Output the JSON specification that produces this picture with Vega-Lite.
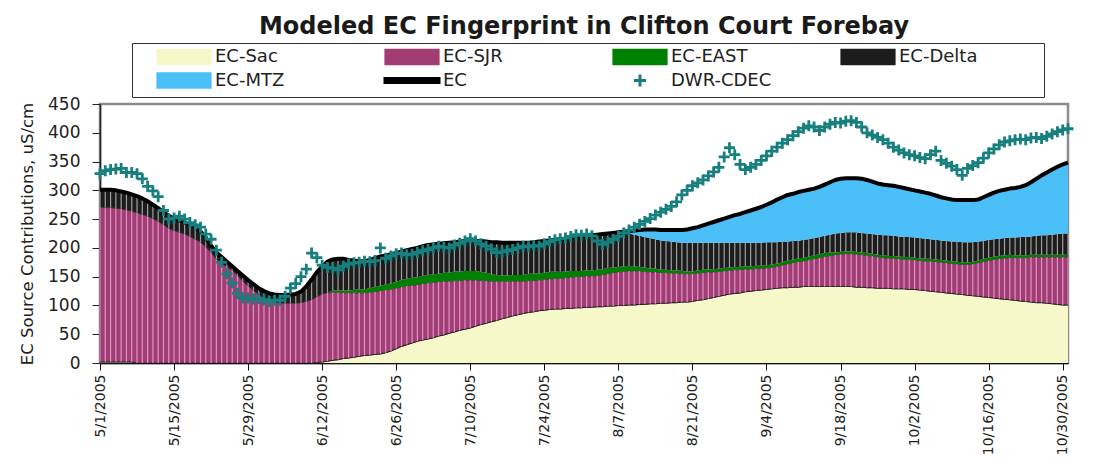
{
"$schema": "https://vega.github.io/schema/vega-lite/v6.json",
"width": 968, "height": 259,
"autosize": {"type": "none"},
"padding": {"left": 100, "top": 104, "right": 28, "bottom": 110},
"background": "white",
"config": {
  "view": {"stroke": "#8c8c8c", "strokeWidth": 2.5},
  "axis": {"labelOverlap": false},
  "axisY": {"labelOverlap": false, "labelFont": "DejaVu Sans", "labelFontSize": 17, "labelColor": "#222", "labelPadding": 12, "tickSize": 8, "tickColor": "#222", "domainColor": "#222", "domainWidth": 1.5, "grid": false, "titleFont": "DejaVu Sans", "titleFontSize": 16.5, "titleFontWeight": "normal", "titleColor": "#222", "titlePadding": 12},
  "axisX": {"labelOverlap": false, "labelFont": "DejaVu Sans", "labelFontSize": 14, "labelColor": "#222", "labelPadding": 4, "labelFlush": false, "tickSize": 7, "tickColor": "#111", "domainColor": "#111", "domainWidth": 1.5, "grid": false}
},
"title": {"text": "Modeled EC Fingerprint in Clifton Court Forebay", "font": "DejaVu Sans", "fontSize": 24, "fontWeight": "bold", "color": "#1a1a1a", "anchor": "middle", "frame": "group", "offset": 4},
"data": {"values": [
{"date":"2005/05/01","sacTop":2,"sjrTop":271,"eastTop":271,"deltaTop":301,"ec":301,"cdec":329},
{"date":"2005/05/02","sacTop":2,"sjrTop":270,"eastTop":270,"deltaTop":301,"ec":301,"cdec":334},
{"date":"2005/05/03","sacTop":2,"sjrTop":270,"eastTop":270,"deltaTop":301,"ec":301,"cdec":336},
{"date":"2005/05/04","sacTop":2,"sjrTop":269,"eastTop":269,"deltaTop":300,"ec":300,"cdec":337},
{"date":"2005/05/05","sacTop":2,"sjrTop":268,"eastTop":268,"deltaTop":298,"ec":298,"cdec":338},
{"date":"2005/05/06","sacTop":2,"sjrTop":266,"eastTop":266,"deltaTop":296,"ec":296,"cdec":331},
{"date":"2005/05/07","sacTop":2,"sjrTop":264,"eastTop":264,"deltaTop":293,"ec":293,"cdec":331},
{"date":"2005/05/08","sacTop":0,"sjrTop":261,"eastTop":261,"deltaTop":290,"ec":290,"cdec":329},
{"date":"2005/05/09","sacTop":0,"sjrTop":258,"eastTop":258,"deltaTop":286,"ec":286,"cdec":320},
{"date":"2005/05/10","sacTop":0,"sjrTop":255,"eastTop":255,"deltaTop":281,"ec":281,"cdec":307},
{"date":"2005/05/11","sacTop":0,"sjrTop":251,"eastTop":251,"deltaTop":275,"ec":275,"cdec":299},
{"date":"2005/05/12","sacTop":0,"sjrTop":246,"eastTop":246,"deltaTop":269,"ec":269,"cdec":289},
{"date":"2005/05/13","sacTop":0,"sjrTop":240,"eastTop":240,"deltaTop":262,"ec":262,"cdec":265},
{"date":"2005/05/14","sacTop":0,"sjrTop":234,"eastTop":234,"deltaTop":256,"ec":256,"cdec":250},
{"date":"2005/05/15","sacTop":0,"sjrTop":230,"eastTop":230,"deltaTop":251,"ec":251,"cdec":252},
{"date":"2005/05/16","sacTop":0,"sjrTop":227,"eastTop":227,"deltaTop":248,"ec":248,"cdec":255},
{"date":"2005/05/17","sacTop":0,"sjrTop":224,"eastTop":224,"deltaTop":244,"ec":244,"cdec":250},
{"date":"2005/05/18","sacTop":0,"sjrTop":220,"eastTop":220,"deltaTop":240,"ec":240,"cdec":244},
{"date":"2005/05/19","sacTop":0,"sjrTop":215,"eastTop":215,"deltaTop":235,"ec":235,"cdec":240},
{"date":"2005/05/20","sacTop":0,"sjrTop":210,"eastTop":210,"deltaTop":229,"ec":229,"cdec":236},
{"date":"2005/05/21","sacTop":0,"sjrTop":202,"eastTop":202,"deltaTop":218,"ec":218,"cdec":224},
{"date":"2005/05/22","sacTop":0,"sjrTop":192,"eastTop":192,"deltaTop":204,"ec":204,"cdec":215},
{"date":"2005/05/23","sacTop":0,"sjrTop":180,"eastTop":180,"deltaTop":192,"ec":192,"cdec":196},
{"date":"2005/05/24","sacTop":0,"sjrTop":173,"eastTop":173,"deltaTop":184,"ec":184,"cdec":175},
{"date":"2005/05/25","sacTop":0,"sjrTop":167,"eastTop":167,"deltaTop":176,"ec":176,"cdec":155},
{"date":"2005/05/26","sacTop":0,"sjrTop":161,"eastTop":161,"deltaTop":168,"ec":168,"cdec":139},
{"date":"2005/05/27","sacTop":0,"sjrTop":152,"eastTop":152,"deltaTop":160,"ec":160,"cdec":121},
{"date":"2005/05/28","sacTop":0,"sjrTop":142,"eastTop":142,"deltaTop":152,"ec":152,"cdec":113},
{"date":"2005/05/29","sacTop":0,"sjrTop":134,"eastTop":134,"deltaTop":144,"ec":144,"cdec":113},
{"date":"2005/05/30","sacTop":0,"sjrTop":126,"eastTop":126,"deltaTop":137,"ec":137,"cdec":111},
{"date":"2005/05/31","sacTop":0,"sjrTop":119,"eastTop":119,"deltaTop":130,"ec":130,"cdec":112},
{"date":"2005/06/01","sacTop":0,"sjrTop":113,"eastTop":113,"deltaTop":125,"ec":125,"cdec":110},
{"date":"2005/06/02","sacTop":0,"sjrTop":108,"eastTop":108,"deltaTop":121,"ec":121,"cdec":107},
{"date":"2005/06/03","sacTop":0,"sjrTop":106,"eastTop":106,"deltaTop":119,"ec":119,"cdec":109},
{"date":"2005/06/04","sacTop":0,"sjrTop":104,"eastTop":104,"deltaTop":118,"ec":118,"cdec":109},
{"date":"2005/06/05","sacTop":0,"sjrTop":104,"eastTop":104,"deltaTop":118,"ec":118,"cdec":116},
{"date":"2005/06/06","sacTop":0,"sjrTop":104,"eastTop":104,"deltaTop":119,"ec":119,"cdec":130},
{"date":"2005/06/07","sacTop":0,"sjrTop":104,"eastTop":104,"deltaTop":120,"ec":120,"cdec":138},
{"date":"2005/06/08","sacTop":0,"sjrTop":105,"eastTop":105,"deltaTop":124,"ec":124,"cdec":150},
{"date":"2005/06/09","sacTop":0,"sjrTop":107,"eastTop":107,"deltaTop":133,"ec":133,"cdec":163},
{"date":"2005/06/10","sacTop":0,"sjrTop":110,"eastTop":110,"deltaTop":145,"ec":145,"cdec":191},
{"date":"2005/06/11","sacTop":1,"sjrTop":115,"eastTop":115,"deltaTop":158,"ec":158,"cdec":183},
{"date":"2005/06/12","sacTop":2,"sjrTop":120,"eastTop":120,"deltaTop":168,"ec":168,"cdec":170},
{"date":"2005/06/13","sacTop":3,"sjrTop":122,"eastTop":122,"deltaTop":176,"ec":176,"cdec":166},
{"date":"2005/06/14","sacTop":5,"sjrTop":123,"eastTop":126,"deltaTop":180,"ec":180,"cdec":165},
{"date":"2005/06/15","sacTop":6,"sjrTop":123,"eastTop":126,"deltaTop":181,"ec":181,"cdec":162},
{"date":"2005/06/16","sacTop":8,"sjrTop":122,"eastTop":126,"deltaTop":181,"ec":181,"cdec":168},
{"date":"2005/06/17","sacTop":9,"sjrTop":122,"eastTop":126,"deltaTop":179,"ec":179,"cdec":172},
{"date":"2005/06/18","sacTop":10,"sjrTop":122,"eastTop":127,"deltaTop":178,"ec":178,"cdec":174},
{"date":"2005/06/19","sacTop":12,"sjrTop":122,"eastTop":128,"deltaTop":177,"ec":177,"cdec":175},
{"date":"2005/06/20","sacTop":13,"sjrTop":122,"eastTop":128,"deltaTop":177,"ec":177,"cdec":177},
{"date":"2005/06/21","sacTop":14,"sjrTop":123,"eastTop":130,"deltaTop":179,"ec":179,"cdec":176},
{"date":"2005/06/22","sacTop":15,"sjrTop":124,"eastTop":132,"deltaTop":182,"ec":182,"cdec":178},
{"date":"2005/06/23","sacTop":16,"sjrTop":125,"eastTop":134,"deltaTop":185,"ec":185,"cdec":200},
{"date":"2005/06/24","sacTop":18,"sjrTop":127,"eastTop":137,"deltaTop":187,"ec":187,"cdec":182},
{"date":"2005/06/25","sacTop":21,"sjrTop":128,"eastTop":138,"deltaTop":189,"ec":189,"cdec":186},
{"date":"2005/06/26","sacTop":25,"sjrTop":130,"eastTop":141,"deltaTop":191,"ec":191,"cdec":190},
{"date":"2005/06/27","sacTop":29,"sjrTop":132,"eastTop":144,"deltaTop":194,"ec":194,"cdec":191},
{"date":"2005/06/28","sacTop":32,"sjrTop":134,"eastTop":146,"deltaTop":196,"ec":196,"cdec":188},
{"date":"2005/06/29","sacTop":35,"sjrTop":135,"eastTop":148,"deltaTop":198,"ec":198,"cdec":189},
{"date":"2005/06/30","sacTop":38,"sjrTop":136,"eastTop":149,"deltaTop":200,"ec":200,"cdec":192},
{"date":"2005/07/01","sacTop":40,"sjrTop":138,"eastTop":151,"deltaTop":203,"ec":203,"cdec":195},
{"date":"2005/07/02","sacTop":42,"sjrTop":139,"eastTop":153,"deltaTop":205,"ec":205,"cdec":197},
{"date":"2005/07/03","sacTop":44,"sjrTop":140,"eastTop":154,"deltaTop":206,"ec":206,"cdec":200},
{"date":"2005/07/04","sacTop":47,"sjrTop":141,"eastTop":155,"deltaTop":207,"ec":207,"cdec":203},
{"date":"2005/07/05","sacTop":49,"sjrTop":142,"eastTop":157,"deltaTop":208,"ec":208,"cdec":201},
{"date":"2005/07/06","sacTop":52,"sjrTop":142,"eastTop":157,"deltaTop":209,"ec":209,"cdec":200},
{"date":"2005/07/07","sacTop":54,"sjrTop":143,"eastTop":159,"deltaTop":210,"ec":210,"cdec":205},
{"date":"2005/07/08","sacTop":57,"sjrTop":143,"eastTop":159,"deltaTop":211,"ec":211,"cdec":208},
{"date":"2005/07/09","sacTop":59,"sjrTop":144,"eastTop":160,"deltaTop":212,"ec":212,"cdec":212},
{"date":"2005/07/10","sacTop":61,"sjrTop":144,"eastTop":160,"deltaTop":212,"ec":212,"cdec":216},
{"date":"2005/07/11","sacTop":64,"sjrTop":144,"eastTop":160,"deltaTop":212,"ec":212,"cdec":212},
{"date":"2005/07/12","sacTop":67,"sjrTop":143,"eastTop":158,"deltaTop":212,"ec":212,"cdec":207},
{"date":"2005/07/13","sacTop":69,"sjrTop":143,"eastTop":157,"deltaTop":211,"ec":211,"cdec":203},
{"date":"2005/07/14","sacTop":72,"sjrTop":142,"eastTop":154,"deltaTop":210,"ec":210,"cdec":198},
{"date":"2005/07/15","sacTop":74,"sjrTop":142,"eastTop":153,"deltaTop":210,"ec":210,"cdec":192},
{"date":"2005/07/16","sacTop":77,"sjrTop":142,"eastTop":152,"deltaTop":209,"ec":209,"cdec":193},
{"date":"2005/07/17","sacTop":79,"sjrTop":142,"eastTop":152,"deltaTop":209,"ec":209,"cdec":195},
{"date":"2005/07/18","sacTop":82,"sjrTop":142,"eastTop":153,"deltaTop":209,"ec":209,"cdec":197},
{"date":"2005/07/19","sacTop":84,"sjrTop":142,"eastTop":153,"deltaTop":209,"ec":209,"cdec":200},
{"date":"2005/07/20","sacTop":86,"sjrTop":142,"eastTop":153,"deltaTop":209,"ec":209,"cdec":203},
{"date":"2005/07/21","sacTop":88,"sjrTop":143,"eastTop":155,"deltaTop":209,"ec":209,"cdec":202},
{"date":"2005/07/22","sacTop":89,"sjrTop":143,"eastTop":155,"deltaTop":210,"ec":210,"cdec":204},
{"date":"2005/07/23","sacTop":91,"sjrTop":144,"eastTop":156,"deltaTop":211,"ec":211,"cdec":203},
{"date":"2005/07/24","sacTop":92,"sjrTop":145,"eastTop":157,"deltaTop":212,"ec":212,"cdec":207},
{"date":"2005/07/25","sacTop":93,"sjrTop":146,"eastTop":158,"deltaTop":213,"ec":213,"cdec":211},
{"date":"2005/07/26","sacTop":94,"sjrTop":147,"eastTop":159,"deltaTop":214,"ec":214,"cdec":214},
{"date":"2005/07/27","sacTop":94,"sjrTop":147,"eastTop":158,"deltaTop":215,"ec":215,"cdec":216},
{"date":"2005/07/28","sacTop":95,"sjrTop":148,"eastTop":159,"deltaTop":216,"ec":216,"cdec":217},
{"date":"2005/07/29","sacTop":95,"sjrTop":149,"eastTop":160,"deltaTop":217,"ec":217,"cdec":220},
{"date":"2005/07/30","sacTop":96,"sjrTop":150,"eastTop":160,"deltaTop":218,"ec":218,"cdec":223},
{"date":"2005/07/31","sacTop":96,"sjrTop":150,"eastTop":160,"deltaTop":219,"ec":219,"cdec":222},
{"date":"2005/08/01","sacTop":97,"sjrTop":151,"eastTop":161,"deltaTop":220,"ec":220,"cdec":224},
{"date":"2005/08/02","sacTop":97,"sjrTop":151,"eastTop":161,"deltaTop":222,"ec":222,"cdec":221},
{"date":"2005/08/03","sacTop":98,"sjrTop":152,"eastTop":162,"deltaTop":223,"ec":223,"cdec":212},
{"date":"2005/08/04","sacTop":98,"sjrTop":153,"eastTop":163,"deltaTop":224,"ec":224,"cdec":206},
{"date":"2005/08/05","sacTop":99,"sjrTop":155,"eastTop":165,"deltaTop":225,"ec":225,"cdec":210},
{"date":"2005/08/06","sacTop":99,"sjrTop":157,"eastTop":166,"deltaTop":226,"ec":226,"cdec":215},
{"date":"2005/08/07","sacTop":100,"sjrTop":158,"eastTop":167,"deltaTop":227,"ec":227,"cdec":220},
{"date":"2005/08/08","sacTop":100,"sjrTop":159,"eastTop":168,"deltaTop":226,"ec":228,"cdec":226},
{"date":"2005/08/09","sacTop":101,"sjrTop":160,"eastTop":169,"deltaTop":225,"ec":229,"cdec":231},
{"date":"2005/08/10","sacTop":101,"sjrTop":160,"eastTop":168,"deltaTop":223,"ec":230,"cdec":236},
{"date":"2005/08/11","sacTop":102,"sjrTop":160,"eastTop":167,"deltaTop":221,"ec":231,"cdec":241},
{"date":"2005/08/12","sacTop":102,"sjrTop":159,"eastTop":166,"deltaTop":219,"ec":232,"cdec":246},
{"date":"2005/08/13","sacTop":103,"sjrTop":158,"eastTop":164,"deltaTop":217,"ec":232,"cdec":251},
{"date":"2005/08/14","sacTop":103,"sjrTop":158,"eastTop":164,"deltaTop":215,"ec":232,"cdec":257},
{"date":"2005/08/15","sacTop":104,"sjrTop":157,"eastTop":162,"deltaTop":213,"ec":231,"cdec":262},
{"date":"2005/08/16","sacTop":104,"sjrTop":157,"eastTop":162,"deltaTop":212,"ec":231,"cdec":267},
{"date":"2005/08/17","sacTop":105,"sjrTop":156,"eastTop":161,"deltaTop":211,"ec":231,"cdec":272},
{"date":"2005/08/18","sacTop":105,"sjrTop":156,"eastTop":161,"deltaTop":210,"ec":231,"cdec":280},
{"date":"2005/08/19","sacTop":106,"sjrTop":155,"eastTop":160,"deltaTop":209,"ec":231,"cdec":292},
{"date":"2005/08/20","sacTop":106,"sjrTop":155,"eastTop":159,"deltaTop":209,"ec":232,"cdec":300},
{"date":"2005/08/21","sacTop":107,"sjrTop":155,"eastTop":159,"deltaTop":209,"ec":234,"cdec":308},
{"date":"2005/08/22","sacTop":109,"sjrTop":156,"eastTop":161,"deltaTop":209,"ec":236,"cdec":313},
{"date":"2005/08/23","sacTop":110,"sjrTop":157,"eastTop":162,"deltaTop":209,"ec":239,"cdec":318},
{"date":"2005/08/24","sacTop":112,"sjrTop":158,"eastTop":163,"deltaTop":209,"ec":242,"cdec":325},
{"date":"2005/08/25","sacTop":114,"sjrTop":158,"eastTop":163,"deltaTop":209,"ec":245,"cdec":332},
{"date":"2005/08/26","sacTop":116,"sjrTop":159,"eastTop":164,"deltaTop":209,"ec":248,"cdec":340},
{"date":"2005/08/27","sacTop":118,"sjrTop":160,"eastTop":165,"deltaTop":209,"ec":251,"cdec":358},
{"date":"2005/08/28","sacTop":120,"sjrTop":161,"eastTop":166,"deltaTop":209,"ec":254,"cdec":374},
{"date":"2005/08/29","sacTop":121,"sjrTop":162,"eastTop":167,"deltaTop":209,"ec":257,"cdec":362},
{"date":"2005/08/30","sacTop":122,"sjrTop":162,"eastTop":167,"deltaTop":209,"ec":259,"cdec":345},
{"date":"2005/08/31","sacTop":124,"sjrTop":163,"eastTop":168,"deltaTop":209,"ec":262,"cdec":336},
{"date":"2005/09/01","sacTop":125,"sjrTop":163,"eastTop":168,"deltaTop":209,"ec":265,"cdec":340},
{"date":"2005/09/02","sacTop":126,"sjrTop":164,"eastTop":169,"deltaTop":209,"ec":268,"cdec":345},
{"date":"2005/09/03","sacTop":127,"sjrTop":164,"eastTop":169,"deltaTop":209,"ec":271,"cdec":352},
{"date":"2005/09/04","sacTop":128,"sjrTop":165,"eastTop":170,"deltaTop":210,"ec":275,"cdec":360},
{"date":"2005/09/05","sacTop":129,"sjrTop":166,"eastTop":171,"deltaTop":210,"ec":279,"cdec":368},
{"date":"2005/09/06","sacTop":130,"sjrTop":168,"eastTop":173,"deltaTop":210,"ec":284,"cdec":375},
{"date":"2005/09/07","sacTop":131,"sjrTop":170,"eastTop":175,"deltaTop":211,"ec":288,"cdec":382},
{"date":"2005/09/08","sacTop":131,"sjrTop":172,"eastTop":178,"deltaTop":211,"ec":292,"cdec":388},
{"date":"2005/09/09","sacTop":132,"sjrTop":174,"eastTop":180,"deltaTop":212,"ec":294,"cdec":395},
{"date":"2005/09/10","sacTop":132,"sjrTop":176,"eastTop":182,"deltaTop":212,"ec":297,"cdec":402},
{"date":"2005/09/11","sacTop":133,"sjrTop":177,"eastTop":183,"deltaTop":214,"ec":299,"cdec":408},
{"date":"2005/09/12","sacTop":133,"sjrTop":179,"eastTop":185,"deltaTop":215,"ec":301,"cdec":412},
{"date":"2005/09/13","sacTop":133,"sjrTop":181,"eastTop":187,"deltaTop":217,"ec":303,"cdec":410},
{"date":"2005/09/14","sacTop":133,"sjrTop":183,"eastTop":189,"deltaTop":219,"ec":306,"cdec":404},
{"date":"2005/09/15","sacTop":133,"sjrTop":185,"eastTop":191,"deltaTop":221,"ec":310,"cdec":410},
{"date":"2005/09/16","sacTop":133,"sjrTop":186,"eastTop":192,"deltaTop":223,"ec":314,"cdec":415},
{"date":"2005/09/17","sacTop":133,"sjrTop":188,"eastTop":192,"deltaTop":225,"ec":318,"cdec":418},
{"date":"2005/09/18","sacTop":133,"sjrTop":189,"eastTop":193,"deltaTop":226,"ec":320,"cdec":417},
{"date":"2005/09/19","sacTop":133,"sjrTop":190,"eastTop":194,"deltaTop":227,"ec":321,"cdec":420},
{"date":"2005/09/20","sacTop":133,"sjrTop":190,"eastTop":194,"deltaTop":227,"ec":321,"cdec":421},
{"date":"2005/09/21","sacTop":132,"sjrTop":189,"eastTop":193,"deltaTop":227,"ec":321,"cdec":418},
{"date":"2005/09/22","sacTop":132,"sjrTop":188,"eastTop":192,"deltaTop":226,"ec":320,"cdec":410},
{"date":"2005/09/23","sacTop":131,"sjrTop":187,"eastTop":191,"deltaTop":225,"ec":318,"cdec":400},
{"date":"2005/09/24","sacTop":131,"sjrTop":186,"eastTop":190,"deltaTop":224,"ec":315,"cdec":396},
{"date":"2005/09/25","sacTop":130,"sjrTop":184,"eastTop":188,"deltaTop":223,"ec":312,"cdec":392},
{"date":"2005/09/26","sacTop":130,"sjrTop":183,"eastTop":187,"deltaTop":222,"ec":310,"cdec":388},
{"date":"2005/09/27","sacTop":130,"sjrTop":182,"eastTop":186,"deltaTop":222,"ec":309,"cdec":382},
{"date":"2005/09/28","sacTop":129,"sjrTop":182,"eastTop":186,"deltaTop":221,"ec":308,"cdec":375},
{"date":"2005/09/29","sacTop":129,"sjrTop":181,"eastTop":185,"deltaTop":220,"ec":306,"cdec":370},
{"date":"2005/09/30","sacTop":129,"sjrTop":180,"eastTop":184,"deltaTop":219,"ec":304,"cdec":365},
{"date":"2005/10/01","sacTop":128,"sjrTop":180,"eastTop":184,"deltaTop":219,"ec":302,"cdec":362},
{"date":"2005/10/02","sacTop":128,"sjrTop":179,"eastTop":183,"deltaTop":218,"ec":300,"cdec":360},
{"date":"2005/10/03","sacTop":127,"sjrTop":178,"eastTop":182,"deltaTop":217,"ec":298,"cdec":357},
{"date":"2005/10/04","sacTop":126,"sjrTop":177,"eastTop":181,"deltaTop":216,"ec":296,"cdec":355},
{"date":"2005/10/05","sacTop":125,"sjrTop":177,"eastTop":181,"deltaTop":215,"ec":294,"cdec":362},
{"date":"2005/10/06","sacTop":124,"sjrTop":176,"eastTop":180,"deltaTop":214,"ec":291,"cdec":368},
{"date":"2005/10/07","sacTop":123,"sjrTop":175,"eastTop":179,"deltaTop":213,"ec":288,"cdec":352},
{"date":"2005/10/08","sacTop":122,"sjrTop":174,"eastTop":178,"deltaTop":212,"ec":286,"cdec":347},
{"date":"2005/10/09","sacTop":121,"sjrTop":173,"eastTop":177,"deltaTop":211,"ec":284,"cdec":342},
{"date":"2005/10/10","sacTop":120,"sjrTop":172,"eastTop":176,"deltaTop":211,"ec":283,"cdec":336},
{"date":"2005/10/11","sacTop":119,"sjrTop":171,"eastTop":175,"deltaTop":210,"ec":283,"cdec":326},
{"date":"2005/10/12","sacTop":118,"sjrTop":171,"eastTop":175,"deltaTop":210,"ec":283,"cdec":338},
{"date":"2005/10/13","sacTop":117,"sjrTop":172,"eastTop":176,"deltaTop":210,"ec":283,"cdec":343},
{"date":"2005/10/14","sacTop":116,"sjrTop":174,"eastTop":178,"deltaTop":211,"ec":284,"cdec":348},
{"date":"2005/10/15","sacTop":115,"sjrTop":176,"eastTop":181,"deltaTop":212,"ec":288,"cdec":356},
{"date":"2005/10/16","sacTop":114,"sjrTop":178,"eastTop":183,"deltaTop":214,"ec":292,"cdec":365},
{"date":"2005/10/17","sacTop":113,"sjrTop":180,"eastTop":185,"deltaTop":215,"ec":296,"cdec":372},
{"date":"2005/10/18","sacTop":112,"sjrTop":181,"eastTop":186,"deltaTop":216,"ec":299,"cdec":379},
{"date":"2005/10/19","sacTop":111,"sjrTop":182,"eastTop":187,"deltaTop":217,"ec":301,"cdec":384},
{"date":"2005/10/20","sacTop":110,"sjrTop":183,"eastTop":188,"deltaTop":218,"ec":303,"cdec":386},
{"date":"2005/10/21","sacTop":109,"sjrTop":183,"eastTop":187,"deltaTop":218,"ec":304,"cdec":388},
{"date":"2005/10/22","sacTop":108,"sjrTop":183,"eastTop":187,"deltaTop":219,"ec":306,"cdec":389},
{"date":"2005/10/23","sacTop":107,"sjrTop":183,"eastTop":187,"deltaTop":219,"ec":309,"cdec":388},
{"date":"2005/10/24","sacTop":106,"sjrTop":184,"eastTop":188,"deltaTop":220,"ec":314,"cdec":391},
{"date":"2005/10/25","sacTop":105,"sjrTop":184,"eastTop":188,"deltaTop":221,"ec":320,"cdec":392},
{"date":"2005/10/26","sacTop":105,"sjrTop":184,"eastTop":188,"deltaTop":222,"ec":326,"cdec":390},
{"date":"2005/10/27","sacTop":104,"sjrTop":184,"eastTop":188,"deltaTop":222,"ec":331,"cdec":394},
{"date":"2005/10/28","sacTop":103,"sjrTop":184,"eastTop":188,"deltaTop":223,"ec":336,"cdec":398},
{"date":"2005/10/29","sacTop":102,"sjrTop":184,"eastTop":188,"deltaTop":224,"ec":341,"cdec":402},
{"date":"2005/10/30","sacTop":101,"sjrTop":184,"eastTop":188,"deltaTop":225,"ec":345,"cdec":405},
{"date":"2005/10/31","sacTop":101,"sjrTop":184,"eastTop":188,"deltaTop":225,"ec":348,"cdec":407}
]},
"encoding": {
  "x": {"field": "date", "type": "temporal",
    "scale": {"domain": [{"year": 2005, "month": 5, "date": 1}, {"year": 2005, "month": 10, "date": 31}]},
    "axis": {"title": null, "format": "%-m/%-d/%Y", "labelAngle": 270,
      "values": [{"year": 2005, "month": 5, "date": 1}, {"year": 2005, "month": 5, "date": 15}, {"year": 2005, "month": 5, "date": 29}, {"year": 2005, "month": 6, "date": 12}, {"year": 2005, "month": 6, "date": 26}, {"year": 2005, "month": 7, "date": 10}, {"year": 2005, "month": 7, "date": 24}, {"year": 2005, "month": 8, "date": 7}, {"year": 2005, "month": 8, "date": 21}, {"year": 2005, "month": 9, "date": 4}, {"year": 2005, "month": 9, "date": 18}, {"year": 2005, "month": 10, "date": 2}, {"year": 2005, "month": 10, "date": 16}, {"year": 2005, "month": 10, "date": 30}]}}
},
"layer": [
  {"mark": {"type": "area", "opacity": 1},
   "encoding": {
     "y": {"field": "sacTop", "type": "quantitative", "scale": {"domain": [0, 450], "nice": false},
       "axis": {"title": "EC Source Contributions, uS/cm", "values": [0, 50, 100, 150, 200, 250, 300, 350, 400, 450], "tickCount": 10, "labelOverlap": false}},
     "y2": {"datum": 0},
     "fill": {"datum": "EC-Sac", "type": "nominal",
       "scale": {"domain": ["EC-Sac", "EC-SJR", "EC-EAST", "EC-Delta", "EC-MTZ", "EC", "DWR-CDEC"], "range": ["#f6f8c9", "#a23c74", "#008000", "#1c1c1c", "#4bbff7", "#000000", "#17807e"]},
       "legend": {"orient": "none", "legendX": 32, "legendY": -61, "direction": "horizontal", "columns": 4, "gridAlign": "all", "columnPadding": 47, "rowPadding": -5, "padding": 3,
         "title": "\u00a0", "titleOrient": "right", "titlePadding": 64, "titleFontSize": 10,
         "strokeColor": "#333", "symbolSize": 324, "symbolStrokeWidth": 3, "symbolOffset": 38.5, "labelOffset": 20.5,
         "symbolType": {"expr": "datum.value === 'EC' ? 'M-3,-0.22H3V0.22H-3Z' : datum.value === 'DWR-CDEC' ? 'M-2.9,0M-0.67,0H0.67M0,-0.67V0.67M2.9,0' : 'M-2.9,-0.75H2.9V0.75H-2.9Z'"},
         "symbolStrokeColor": {"expr": "datum.value === 'DWR-CDEC' ? '#17807e' : datum.value === 'EC' ? 'transparent' : '#000000'"},
         "labelFont": "DejaVu Sans", "labelFontSize": 18, "labelColor": "#222", "labelLimit": 300}}
   }},
  {"mark": {"type": "line", "color": "#111", "strokeWidth": 1.2},
   "encoding": {
     "y": {"field": "sacTop", "type": "quantitative", "scale": {"domain": [0, 450], "nice": false},
       "axis": {"title": "EC Source Contributions, uS/cm", "values": [0, 50, 100, 150, 200, 250, 300, 350, 400, 450], "tickCount": 10, "labelOverlap": false}}
   }},
  {"mark": {"type": "area", "stroke": "#222", "strokeWidth": 0.8, "opacity": 1},
   "encoding": {
     "y": {"field": "sjrTop", "type": "quantitative", "scale": {"domain": [0, 450], "nice": false},
       "axis": {"title": "EC Source Contributions, uS/cm", "values": [0, 50, 100, 150, 200, 250, 300, 350, 400, 450], "tickCount": 10, "labelOverlap": false}},
     "y2": {"field": "sacTop"},
     "color": {"datum": "EC-SJR", "type": "nominal", "legend": null, "scale": {"domain": ["EC-Sac", "EC-SJR", "EC-EAST", "EC-Delta", "EC-MTZ", "EC", "DWR-CDEC"], "range": ["#f6f8c9", "#a23c74", "#008000", "#1c1c1c", "#4bbff7", "#000000", "#17807e"]}}
   }},
  {"mark": {"type": "rule", "stroke": "#dc96c4", "strokeWidth": 1.2},
   "encoding": {
     "y": {"field": "sjrTop", "type": "quantitative", "scale": {"domain": [0, 450], "nice": false},
       "axis": {"title": "EC Source Contributions, uS/cm", "values": [0, 50, 100, 150, 200, 250, 300, 350, 400, 450], "tickCount": 10, "labelOverlap": false}},
     "y2": {"field": "sacTop"}
   }},
  {"mark": {"type": "area", "opacity": 1},
   "encoding": {
     "y": {"field": "eastTop", "type": "quantitative", "scale": {"domain": [0, 450], "nice": false},
       "axis": {"title": "EC Source Contributions, uS/cm", "values": [0, 50, 100, 150, 200, 250, 300, 350, 400, 450], "tickCount": 10, "labelOverlap": false}},
     "y2": {"field": "sjrTop"},
     "color": {"datum": "EC-EAST", "type": "nominal", "legend": null, "scale": {"domain": ["EC-Sac", "EC-SJR", "EC-EAST", "EC-Delta", "EC-MTZ", "EC", "DWR-CDEC"], "range": ["#f6f8c9", "#a23c74", "#008000", "#1c1c1c", "#4bbff7", "#000000", "#17807e"]}}
   }},
  {"mark": {"type": "area", "opacity": 1},
   "encoding": {
     "y": {"field": "deltaTop", "type": "quantitative", "scale": {"domain": [0, 450], "nice": false},
       "axis": {"title": "EC Source Contributions, uS/cm", "values": [0, 50, 100, 150, 200, 250, 300, 350, 400, 450], "tickCount": 10, "labelOverlap": false}},
     "y2": {"field": "eastTop"},
     "color": {"datum": "EC-Delta", "type": "nominal", "legend": null, "scale": {"domain": ["EC-Sac", "EC-SJR", "EC-EAST", "EC-Delta", "EC-MTZ", "EC", "DWR-CDEC"], "range": ["#f6f8c9", "#a23c74", "#008000", "#1c1c1c", "#4bbff7", "#000000", "#17807e"]}}
   }},
  {"mark": {"type": "rule", "stroke": "#a0a0a0", "strokeWidth": 1.2},
   "encoding": {
     "y": {"field": "deltaTop", "type": "quantitative", "scale": {"domain": [0, 450], "nice": false},
       "axis": {"title": "EC Source Contributions, uS/cm", "values": [0, 50, 100, 150, 200, 250, 300, 350, 400, 450], "tickCount": 10, "labelOverlap": false}},
     "y2": {"field": "eastTop"}
   }},
  {"mark": {"type": "area", "opacity": 1},
   "encoding": {
     "y": {"field": "ec", "type": "quantitative", "scale": {"domain": [0, 450], "nice": false},
       "axis": {"title": "EC Source Contributions, uS/cm", "values": [0, 50, 100, 150, 200, 250, 300, 350, 400, 450], "tickCount": 10, "labelOverlap": false}},
     "y2": {"field": "deltaTop"},
     "color": {"datum": "EC-MTZ", "type": "nominal", "legend": null, "scale": {"domain": ["EC-Sac", "EC-SJR", "EC-EAST", "EC-Delta", "EC-MTZ", "EC", "DWR-CDEC"], "range": ["#f6f8c9", "#a23c74", "#008000", "#1c1c1c", "#4bbff7", "#000000", "#17807e"]}}
   }},
  {"mark": {"type": "line", "strokeWidth": 4, "strokeJoin": "round"},
   "encoding": {
     "y": {"field": "ec", "type": "quantitative", "scale": {"domain": [0, 450], "nice": false},
       "axis": {"title": "EC Source Contributions, uS/cm", "values": [0, 50, 100, 150, 200, 250, 300, 350, 400, 450], "tickCount": 10, "labelOverlap": false}},
     "color": {"datum": "EC", "type": "nominal", "legend": null, "scale": {"domain": ["EC-Sac", "EC-SJR", "EC-EAST", "EC-Delta", "EC-MTZ", "EC", "DWR-CDEC"], "range": ["#f6f8c9", "#a23c74", "#008000", "#1c1c1c", "#4bbff7", "#000000", "#17807e"]}}
   }},
  {"mark": {"type": "point", "shape": "M-1,0H1M0,-1V1", "filled": false, "size": 121, "strokeWidth": 2.8, "opacity": 1},
   "encoding": {
     "y": {"field": "cdec", "type": "quantitative", "scale": {"domain": [0, 450], "nice": false},
       "axis": {"title": "EC Source Contributions, uS/cm", "values": [0, 50, 100, 150, 200, 250, 300, 350, 400, 450], "tickCount": 10, "labelOverlap": false}},
     "color": {"datum": "DWR-CDEC", "type": "nominal", "legend": null, "scale": {"domain": ["EC-Sac", "EC-SJR", "EC-EAST", "EC-Delta", "EC-MTZ", "EC", "DWR-CDEC"], "range": ["#f6f8c9", "#a23c74", "#008000", "#1c1c1c", "#4bbff7", "#000000", "#17807e"]}}
   }}
]
}
